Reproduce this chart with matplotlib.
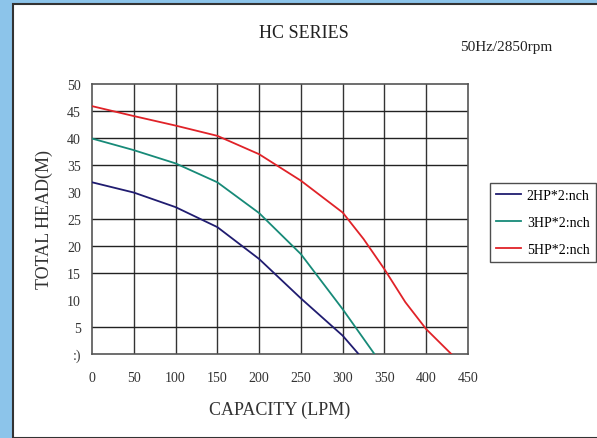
import numpy as np
import matplotlib.pyplot as plt
from matplotlib.patches import Rectangle

# Pump curves (capacity LPM, head m)
cap_2hp = [0, 50, 100, 150, 200, 250, 300, 319]
head_2hp = [31.8, 29.9, 27.2, 23.5, 17.6, 10.3, 3.4, 0]

cap_3hp = [0, 49, 100, 150, 200, 250, 300, 338]
head_3hp = [39.9, 37.8, 35.3, 31.8, 26.1, 18.5, 8.3, 0]

cap_5hp = [0, 49, 100, 150, 200, 250, 300, 325, 350, 375, 400, 430]
head_5hp = [45.9, 44.1, 42.3, 40.4, 37.0, 32.1, 26.2, 21.3, 15.7, 9.6, 4.6, 0]

labels = ['2HP*2:nch', '3HP*2:nch', '5HP*2:nch']
colors = ['#201c70', '#178a78', '#e02228']

x_ticks = list(range(0, 451, 50))
y_ticks = list(range(0, 51, 5))
y_tick_labels = [':)' if v == 0 else str(v) for v in y_ticks]
missing_grid = [10, 30]  # horizontal lines absent in the source picture

plt.rcParams['font.family'] = ['Liberation Serif', 'DejaVu Serif']

fig = plt.figure(figsize=(5.97, 4.39), dpi=100)
fig.patch.set_facecolor('#8cc4ea')

# white panel with dark frame, like the screenshot
panel = Rectangle((13 / 597, 0), 1, 1 - 5 / 439, transform=fig.transFigure,
                  facecolor='white', edgecolor='#333333', linewidth=1.5, zorder=-5)
fig.patches.append(panel)

ax = fig.add_axes([92 / 597, 84 / 439, 376 / 597, 270 / 439])
ax.set_facecolor('white')

ax.plot(cap_2hp, head_2hp, color=colors[0], lw=1.3, label=labels[0], zorder=3)
ax.plot(cap_3hp, head_3hp, color=colors[1], lw=1.3, label=labels[1], zorder=3)
ax.plot(cap_5hp, head_5hp, color=colors[2], lw=1.3, label=labels[2], zorder=3)

ax.set_xlim(0, 450)
ax.set_ylim(0, 50)
ax.set_xticks(x_ticks)
ax.set_yticks(y_ticks)
ax.set_yticklabels(y_tick_labels)
ax.tick_params(length=0, labelsize=10, colors='#333333')
ax.tick_params(axis='x', pad=12)
ax.tick_params(axis='y', pad=8)

for v in x_ticks[1:-1]:
    ax.axvline(v, color='#333333', lw=1, zorder=1)
for v in y_ticks[1:-1]:
    if v not in missing_grid:
        ax.axhline(v, color='#222222', lw=1, zorder=1)
for s in ax.spines.values():
    s.set_color('#555555')
    s.set_linewidth(1.2)

ax.set_xlabel('CAPACITY (LPM)', fontsize=13, color='#333333', labelpad=12)
ax.set_ylabel('TOTAL HEAD(M)', fontsize=13, color='#333333', labelpad=10)

fig.text(304 / 597, 1 - 33 / 439, 'HC SERIES', fontsize=13, ha='center', va='center', color='#222222')
fig.text(460 / 597, 1 - 48 / 439, '50Hz/2850rpm', fontsize=11, ha='left', va='center', color='#222222')

leg = fig.legend(loc='upper left', bbox_to_anchor=(490 / 597, 1 - 184 / 439), fontsize=10,
                 frameon=True, fancybox=False, edgecolor='#222222', handlelength=1.8,
                 labelspacing=1.0, borderpad=0.45, handletextpad=0.4, borderaxespad=0)
leg.get_frame().set_linewidth(1)

fig.savefig('out.png', dpi=100)
